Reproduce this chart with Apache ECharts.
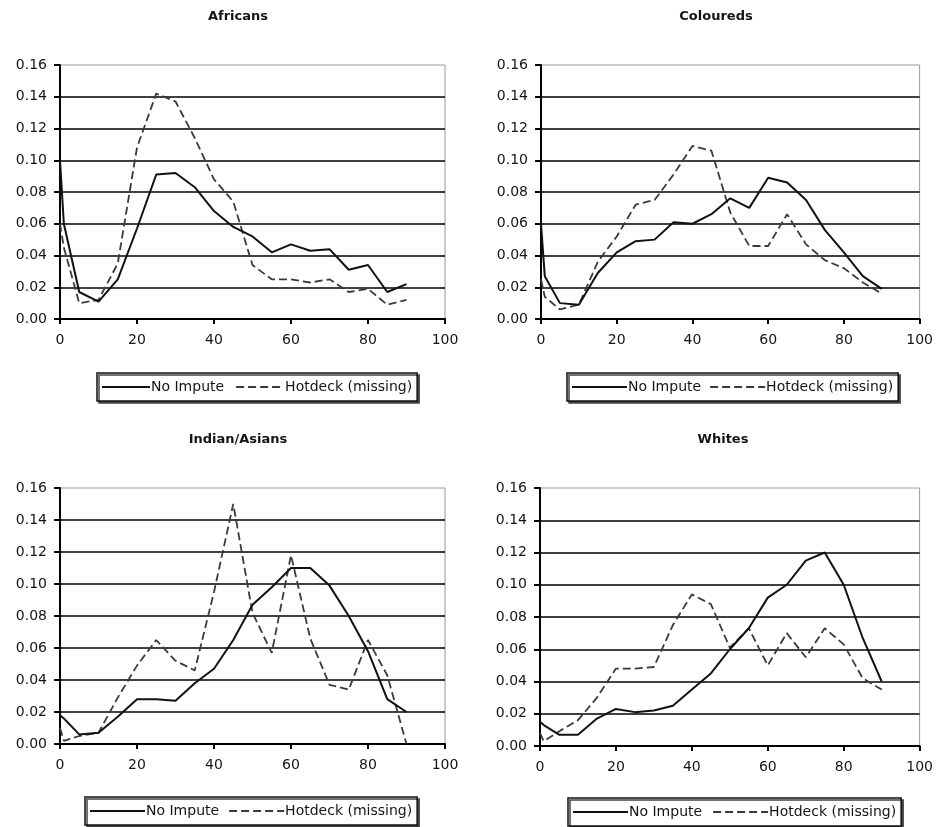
<!DOCTYPE html>
<html>
<head>
<meta charset="utf-8">
<script src="https://cdn.jsdelivr.net/npm/echarts@6/dist/echarts.min.js"></script>
<style>
html,body{margin:0;padding:0;background:#fff;}
#chart{width:936px;height:827px;}
</style>
</head>
<body>
<div id="chart"></div>
<script>
// ---- data ----
const xValues = [0, 1, 5, 10, 15, 20, 25, 30, 35, 40, 45, 50, 55, 60, 65, 70, 75, 80, 85, 90];
const panelTitles = ['Africans', 'Coloureds', 'Indian/Asians', 'Whites'];
const seriesNames = ['No Impute', 'Hotdeck (missing)'];
const yTicks = ['0.00','0.02','0.04','0.06','0.08','0.10','0.12','0.14','0.16'];
const xTicks = [0, 20, 40, 60, 80, 100];

const africansNoImpute = [0.100, 0.060, 0.017, 0.011, 0.025, 0.057, 0.091, 0.092, 0.083, 0.068, 0.058, 0.052, 0.042, 0.047, 0.043, 0.044, 0.031, 0.034, 0.017, 0.022];
const africansHotdeck  = [0.060, 0.045, 0.010, 0.012, 0.035, 0.108, 0.142, 0.137, 0.114, 0.088, 0.074, 0.034, 0.025, 0.025, 0.023, 0.025, 0.017, 0.019, 0.009, 0.012];

const colouredsNoImpute = [0.060, 0.027, 0.010, 0.009, 0.029, 0.042, 0.049, 0.050, 0.061, 0.060, 0.066, 0.076, 0.070, 0.089, 0.086, 0.075, 0.056, 0.042, 0.027, 0.019];
const colouredsHotdeck  = [0.025, 0.014, 0.006, 0.009, 0.036, 0.052, 0.072, 0.075, 0.091, 0.109, 0.106, 0.067, 0.046, 0.046, 0.066, 0.047, 0.037, 0.032, 0.023, 0.016];

const indianNoImpute = [0.018, 0.016, 0.006, 0.007, 0.017, 0.028, 0.028, 0.027, 0.038, 0.047, 0.065, 0.087, 0.098, 0.110, 0.110, 0.099, 0.080, 0.058, 0.028, 0.020];
const indianHotdeck  = [0.010, 0.002, 0.005, 0.007, 0.029, 0.049, 0.065, 0.052, 0.046, 0.095, 0.150, 0.082, 0.057, 0.118, 0.066, 0.037, 0.034, 0.065, 0.043, 0.000];

const whitesNoImpute = [0.015, 0.013, 0.007, 0.007, 0.017, 0.023, 0.021, 0.022, 0.025, 0.035, 0.045, 0.060, 0.073, 0.092, 0.100, 0.115, 0.120, 0.100, 0.067, 0.040];
const whitesHotdeck  = [0.008, 0.003, 0.009, 0.016, 0.030, 0.048, 0.048, 0.049, 0.075, 0.094, 0.088, 0.061, 0.073, 0.050, 0.070, 0.055, 0.073, 0.063, 0.042, 0.035];

const panelData = [
  [africansNoImpute, africansHotdeck],
  [colouredsNoImpute, colouredsHotdeck],
  [indianNoImpute, indianHotdeck],
  [whitesNoImpute, whitesHotdeck]
];

// ---- layout ----
const grids = [
  {left: 60,  top: 65,  width: 385, height: 254},
  {left: 541, top: 65,  width: 386, height: 254},
  {left: 60,  top: 488, width: 385, height: 256},
  {left: 540, top: 488, width: 386, height: 258}
];
const titlePos = [
  {x: 238, y: 10}, {x: 716, y: 10}, {x: 238, y: 433}, {x: 723, y: 433}
];
const legendPos = [
  {left: 97, top: 373, w: 48, gap: 11}, {left: 567, top: 373, w: 55, gap: 8},
  {left: 85, top: 797, w: 55, gap: 9}, {left: 568, top: 798, w: 55, gap: 10}
];

const FONT = 'DejaVu Sans';
const TXT = '#141414';

const chart = echarts.init(document.getElementById('chart'), null, {renderer: 'canvas'});

const option = {
  backgroundColor: '#ffffff',
  animation: false,
  title: panelTitles.map((t, i) => ({
    text: t,
    left: titlePos[i].x,
    top: titlePos[i].y,
    textAlign: 'center',
    padding: 0,
    textStyle: {fontFamily: FONT, fontSize: 13, fontWeight: 'bold', color: TXT}
  })),
  grid: grids.map(g => Object.assign({show: true, borderColor: '#9a9a9a', borderWidth: 1, backgroundColor: '#fff', containLabel: false}, g)),
  legend: legendPos.map(l => ({
    left: l.left, top: l.top,
    orient: 'horizontal',
    data: seriesNames,
    itemWidth: l.w, itemHeight: 14, itemGap: l.gap,
    padding: [7, 5, 7, 4],
    borderColor: '#111', borderWidth: 1.5,
    backgroundColor: '#fff',
    shadowColor: '#444', shadowOffsetX: 2, shadowOffsetY: 2, shadowBlur: 0,
    selectedMode: false,
    itemStyle: {color: 'rgba(0,0,0,0)', borderColor: 'rgba(0,0,0,0)', borderWidth: 0, opacity: 0},
    textStyle: {fontFamily: FONT, fontSize: 14, color: TXT, padding: [0, 0, 0, -4]}
  })),
  xAxis: grids.map((g, i) => ({
    type: 'value', gridIndex: i, min: xTicks[0], max: xTicks[xTicks.length - 1], interval: 20,
    axisLine: {show: true, onZero: false, lineStyle: {color: '#000', width: 2}},
    axisTick: {show: true, inside: false, length: 5, lineStyle: {color: '#000', width: 2}},
    axisLabel: {margin: 14, fontFamily: FONT, fontSize: 14, color: TXT},
    splitLine: {show: false}
  })),
  yAxis: grids.map((g, i) => ({
    type: 'value', gridIndex: i, min: 0, max: 0.16, interval: 0.02,
    axisLine: {show: true, lineStyle: {color: '#000', width: 2}},
    axisTick: {show: true, inside: false, length: 6, lineStyle: {color: '#000', width: 2}},
    axisLabel: {margin: 13, fontFamily: FONT, fontSize: 14, color: TXT,
      formatter: v => yTicks[Math.round(v / 0.02)] || v.toFixed(2)},
    splitLine: {show: true, showMinLine: false, showMaxLine: false, lineStyle: {color: '#000', width: 1.6}}
  })),
  series: []
};

panelData.forEach((pair, i) => {
  option.series.push({
    name: seriesNames[0], type: 'line', xAxisIndex: i, yAxisIndex: i,
    data: xValues.map((x, k) => [x, pair[0][k]]),
    symbol: 'none', z: 4,
    lineStyle: {color: '#111', width: 2, type: 'solid'},
    itemStyle: {color: '#111'}
  });
  option.series.push({
    name: seriesNames[1], type: 'line', xAxisIndex: i, yAxisIndex: i,
    data: xValues.map((x, k) => [x, pair[1][k]]),
    symbol: 'none', z: 3,
    lineStyle: {color: '#3a3a3a', width: 1.8, type: [8, 4]},
    itemStyle: {color: '#3a3a3a'}
  });
});

chart.setOption(option);
</script>
</body>
</html>
